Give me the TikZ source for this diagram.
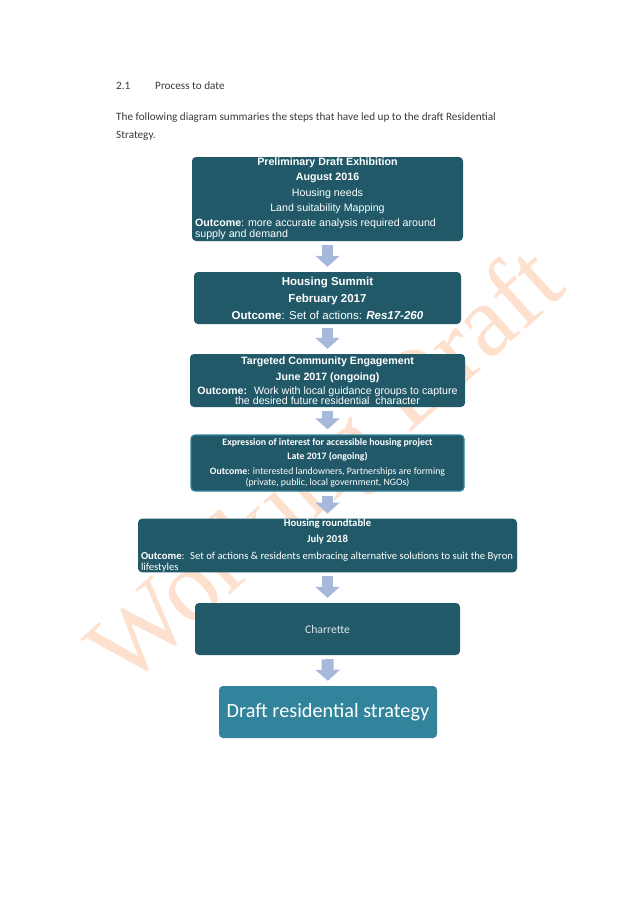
\documentclass[tikz,border=0pt]{standalone}
\usepackage{fontspec}
\setmainfont{Carlito}
\newfontfamily\arialfont{Liberation Sans}
\newfontfamily\timesfont{Liberation Serif}
\usetikzlibrary{arrows.meta}

\newlength{\pxu}
\setlength{\pxu}{0.032967cm}

\definecolor{darkteal}{HTML}{215968}
\definecolor{midteal}{HTML}{31849B}
\definecolor{arrowblue}{HTML}{A7B9DB}
\definecolor{wmorange}{HTML}{FDE1CE}
\definecolor{bodytext}{HTML}{3A3A3A}
\definecolor{softwhite}{HTML}{DCE6EA}

\tikzset{
  stagebox/.style={fill=darkteal, rounded corners=4\pxu, text=white, align=center, inner sep=0pt},
  stagearrow/.style={draw=arrowblue, line width=11.25pt, -{Triangle[width=22.5pt, length=10.3pt]}, shorten <=3.75pt, shorten >=4.7pt},
  bodyline/.style={anchor=base west, text=bodytext, inner sep=0pt, font=\fontsize{10.5}{16}\selectfont},
}

\begin{document}
\begin{tikzpicture}[x=\pxu, y=-\pxu]
  \fill[white] (0,0) rectangle (637,902);
  \useasboundingbox (0,0) rectangle (637,902);

  % watermark behind everything
  \node[rotate=42, anchor=base west, inner sep=0pt, text=wmorange,
        font=\timesfont\fontsize{96}{96}\selectfont] (wmark) at (125,690) {Working Draft};

  % heading and intro
  \node[bodyline] (secnum) at (116,89) {2.1};
  \node[bodyline] (sectitle) at (155,89) {Process to date};
  \node[bodyline, align=left] (intro) at (116,138)
    {The following diagram summaries the steps that have led up to the draft Residential\\ Strategy.};

  % stages
  \node[stagebox, minimum width=271\pxu, minimum height=84\pxu,
        font=\arialfont\fontsize{10}{10.8}\selectfont] (prelim) at (327.5,199)
    {\textbf{Preliminary Draft Exhibition}\\[3.3pt]
     \textbf{August 2016}\\[3.3pt]
     Housing needs\\[3.3pt]
     Land suitability Mapping\\[3.3pt]
     \parbox[t]{265\pxu}{\mbox{\textbf{Outcome}: more accurate analysis required around}\\ supply and demand}};

  \node[stagebox, minimum width=267\pxu, minimum height=52\pxu,
        font=\arialfont\fontsize{10.8}{16}\selectfont] (summit) at (327.5,298)
    {\textbf{Housing Summit}\\
     \textbf{February 2017}\\
     \textbf{Outcome}: Set of actions: \textbf{\itshape Res17-260}};

  \node[stagebox, minimum width=275\pxu, minimum height=53\pxu,
        font=\arialfont\fontsize{10}{9.4}\selectfont] (engage) at (327.5,380.5)
    {\textbf{Targeted Community Engagement}\\[5.6pt]
     \textbf{June 2017 (ongoing)}\\[3.7pt]
     \textbf{Outcome:}~ Work with local guidance groups to capture\\
     the desired future residential~ character};

  \node[stagebox, draw=midteal, line width=1.3\pxu, minimum width=273\pxu, minimum height=56\pxu,
        font=\fontsize{9.2}{10.3}\selectfont] (interest) at (327.5,463)
    {\textbf{Expression of interest for accessible housing project}\\[2.8pt]
     \textbf{Late 2017 (ongoing)}\\[3.8pt]
     \textbf{Outcome}: interested landowners, Partnerships are forming\\
     (private, public, local government, NGOs)};

  \node[stagebox, minimum width=379\pxu, minimum height=53\pxu,
        font=\fontsize{10}{10.6}\selectfont] (roundtable) at (327.5,545.5)
    {\textbf{Housing roundtable}\\[4.4pt]
     \textbf{July 2018}\\[5.4pt]
     \parbox[t]{373\pxu}{\mbox{\textbf{Outcome}:~ Set of actions \& residents embracing alternative solutions to suit the Byron}\\ lifestyles}};

  \node[stagebox, text=softwhite, minimum width=265\pxu, minimum height=52\pxu,
        font=\fontsize{11}{12}\selectfont] (charrette) at (327.5,629) {Charrette};

  \node[stagebox, fill=midteal, minimum width=218\pxu, minimum height=52\pxu,
        font=\fontsize{19}{22}\selectfont] (draftstrat) at (328,712) {Draft residential strategy};

  % block arrows between stages
  \foreach \a/\b in {prelim/summit, summit/engage, engage/interest,
                     interest/roundtable, roundtable/charrette, charrette/draftstrat}
    \draw[stagearrow] (\a.south) -- (\b.north);
\end{tikzpicture}
\end{document}
